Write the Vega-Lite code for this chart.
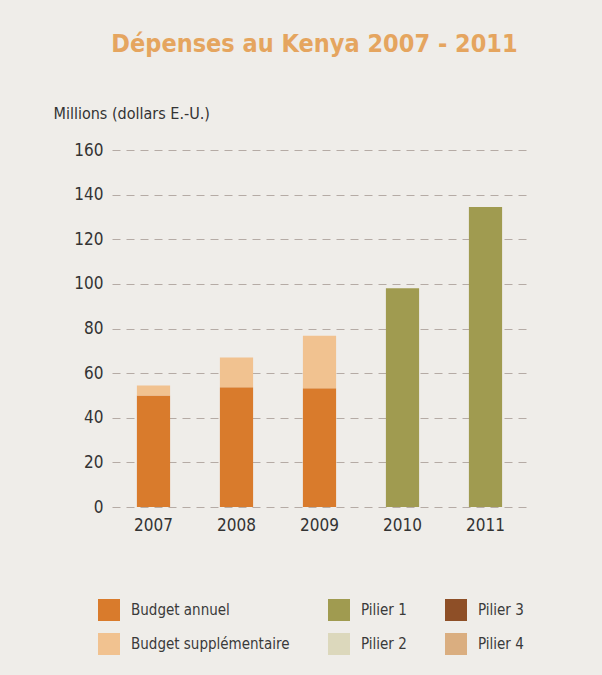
{
  "$schema": "https://vega.github.io/schema/vega-lite/v6.json",
  "autosize": {"type": "none"},
  "padding": {"left": 112, "top": 150, "right": 75, "bottom": 168},
  "width": 415,
  "height": 357,
  "background": "#EFEDE9",
  "title": {
    "text": "Dépenses au Kenya 2007 - 2011",
    "font": "DejaVu Sans Condensed, Lato, sans-serif",
    "fontSize": 25,
    "fontWeight": "bold",
    "color": "#E5A55F",
    "anchor": "middle",
    "frame": "group",
    "offset": 48,
    "dx": -5
  },
  "data": {
    "values": [
      {"annee": "2007", "categorie": "Budget annuel", "montant": 50},
      {"annee": "2007", "categorie": "Budget supplémentaire", "montant": 4.5},
      {"annee": "2008", "categorie": "Budget annuel", "montant": 53.7},
      {"annee": "2008", "categorie": "Budget supplémentaire", "montant": 13.3},
      {"annee": "2009", "categorie": "Budget annuel", "montant": 53.2},
      {"annee": "2009", "categorie": "Budget supplémentaire", "montant": 23.6},
      {"annee": "2010", "categorie": "Pilier 1", "montant": 98},
      {"annee": "2011", "categorie": "Pilier 1", "montant": 134.4}
    ]
  },
  "mark": {"type": "bar"},
  "encoding": {
    "x": {
      "field": "annee",
      "type": "ordinal",
      "scale": {"paddingInner": 0.6, "paddingOuter": 0.3},
      "axis": {
        "title": null,
        "domain": false,
        "ticks": false,
        "labelAngle": 0,
        "labelPadding": 10,
        "labelFont": "DejaVu Sans Condensed, Lato, sans-serif",
        "labelFontSize": 17,
        "labelColor": "#333333"
      }
    },
    "y": {
      "field": "montant",
      "type": "quantitative",
      "aggregate": "sum",
      "stack": "zero",
      "scale": {"domain": [0, 160], "nice": false},
      "axis": {
        "title": "Millions (dollars E.-U.)",
        "titleAngle": 0,
        "titleAlign": "left",
        "titleBaseline": "alphabetic",
        "titleX": -59,
        "titleY": -32,
        "titleFont": "DejaVu Sans Condensed, Lato, sans-serif",
        "titleFontSize": 16,
        "titleFontWeight": "normal",
        "titleColor": "#333333",
        "values": [0, 20, 40, 60, 80, 100, 120, 140, 160],
        "domain": false,
        "ticks": false,
        "labelPadding": 9,
        "labelFont": "DejaVu Sans Condensed, Lato, sans-serif",
        "labelFontSize": 17,
        "labelColor": "#333333",
        "grid": true,
        "gridColor": "#B5ABA5",
        "gridDash": [8, 6],
        "gridWidth": 1
      }
    },
    "color": {
      "field": "categorie",
      "type": "nominal",
      "scale": {
        "domain": ["Budget annuel", "Budget supplémentaire", "Pilier 1", "Pilier 2", "Pilier 3", "Pilier 4"],
        "range": ["#D97B2C", "#F1C290", "#A09B50", "#DCD8BC", "#8E4F27", "#DAAE80"]
      },
      "legend": {
        "title": null,
        "orient": "none",
        "legendX": -14,
        "legendY": 449,
        "columns": 3,
        "columnPadding": 38,
        "rowPadding": 12,
        "padding": 0,
        "symbolType": "square",
        "symbolSize": 484,
        "symbolStrokeWidth": 0,
        "symbolOpacity": 1,
        "labelOffset": 11,
        "labelFont": "DejaVu Sans Condensed, Lato, sans-serif",
        "labelFontSize": 15,
        "labelColor": "#3A3A3A",
        "labelLimit": 300
      }
    },
    "order": {"field": "categorie", "sort": "ascending"}
  },
  "config": {
    "view": {"stroke": null}
  }
}
